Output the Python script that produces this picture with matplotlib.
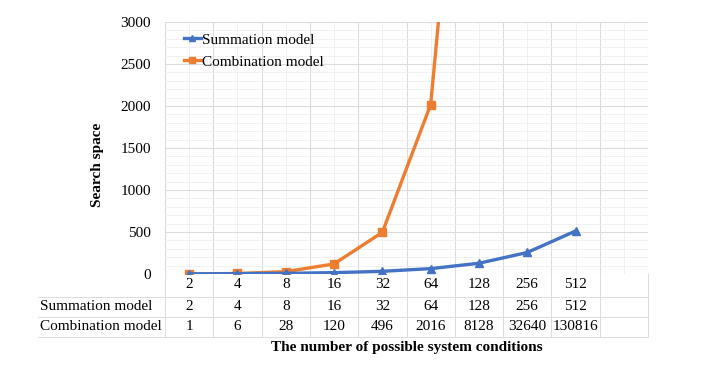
import matplotlib
matplotlib.use("Agg")
import matplotlib.pyplot as plt
from matplotlib.transforms import blended_transform_factory
from matplotlib.lines import Line2D

categories = ["2", "4", "8", "16", "32", "64", "128", "256", "512"]
summation = [2, 4, 8, 16, 32, 64, 128, 256, 512]
combination = [1, 6, 28, 120, 496, 2016, 8128, 32640, 130816]
summation_labels = ["2", "4", "8", "16", "32", "64", "128", "256", "512"]
combination_labels = ["1", "6", "28", "120", "496", "2016", "8128", "32640", "130816"]
row_names = ["Summation model", "Combination model"]

W, H = 713, 366
plt.rcParams['font.family'] = ['Liberation Serif', 'DejaVu Serif']
FS = 11

fig = plt.figure(figsize=(W / 100, H / 100), dpi=100)
L, R, T, B = 165, 648, 22, 274
ax = fig.add_axes([L / W, 1 - B / H, (R - L) / W, (B - T) / H])

blue = "#4472C4"
orange = "#ED7D31"
grid_major = "#DCDCDC"
grid_minor = "#EFEFEF"

n_slots = 10
x = list(range(len(categories)))
ax.plot(x, combination, color=orange, lw=2.4, marker="s", ms=5.5, label="Combination model", zorder=3)
ax.plot(x, summation, color=blue, lw=2.4, marker="^", ms=5.5, label="Summation model", zorder=4)

ax.set_xlim(-0.5, n_slots - 0.5)
ax.set_ylim(0, 3000)
ax.set_yticks(range(0, 3001, 500))
ax.set_yticks(range(0, 3001, 100), minor=True)
ax.set_xticks([i + 0.5 for i in range(-1, n_slots)])
ax.set_xticks(range(n_slots), minor=True)
ax.grid(True, which="major", color=grid_major, lw=0.8, zorder=0)
ax.grid(True, which="minor", color=grid_minor, lw=0.6, zorder=0)
ax.tick_params(axis="x", which="both", length=0, labelbottom=False)
ax.tick_params(axis="y", which="both", length=0, labelsize=FS, pad=10)
for s in ax.spines.values():
    s.set_visible(False)

# legend (order: Summation first)
h, l = ax.get_legend_handles_labels()
ax.legend(h[::-1], l[::-1], loc="upper left", frameon=False, fontsize=FS,
          bbox_to_anchor=((184 - L) / (R - L), 1 - (33 - T) / (B - T)),
          borderpad=0, borderaxespad=0, handlelength=1.1, handletextpad=0.1,
          labelspacing=0.55, markerscale=0.8)

# data table drawn under the axes
tr = blended_transform_factory(ax.transData, fig.transFigure)
def fy(py):
    return 1 - py / H

row_y = [285, 306, 326]
for i, c in enumerate(categories):
    ax.text(i, fy(row_y[0]), c, transform=tr, ha="center", va="center", fontsize=FS, clip_on=False)
    ax.text(i, fy(row_y[1]), summation_labels[i], transform=tr, ha="center", va="center", fontsize=FS, clip_on=False)
    ax.text(i, fy(row_y[2]), combination_labels[i], transform=tr, ha="center", va="center", fontsize=FS, clip_on=False)
fig.text(40 / W, fy(row_y[1]), row_names[0], ha="left", va="center", fontsize=FS)
fig.text(40 / W, fy(row_y[2]), row_names[1], ha="left", va="center", fontsize=FS)

for py in [297, 317, 337]:
    fig.add_artist(Line2D([38 / W, R / W], [fy(py), fy(py)], color=grid_major, lw=0.7))
for k in range(n_slots + 1):
    xb = k - 0.5
    fig.add_artist(Line2D([xb, xb], [fy(B), fy(337)], transform=tr, color=grid_major, lw=0.7))

fig.text(97 / W, fy(165), "Search space", rotation=90, ha="center", va="center",
         fontsize=FS, fontweight="bold")
fig.text((L + R) / 2 / W, fy(347), "The number of possible system conditions",
         ha="center", va="center", fontsize=FS, fontweight="bold")

fig.savefig("out.png", dpi=100)
